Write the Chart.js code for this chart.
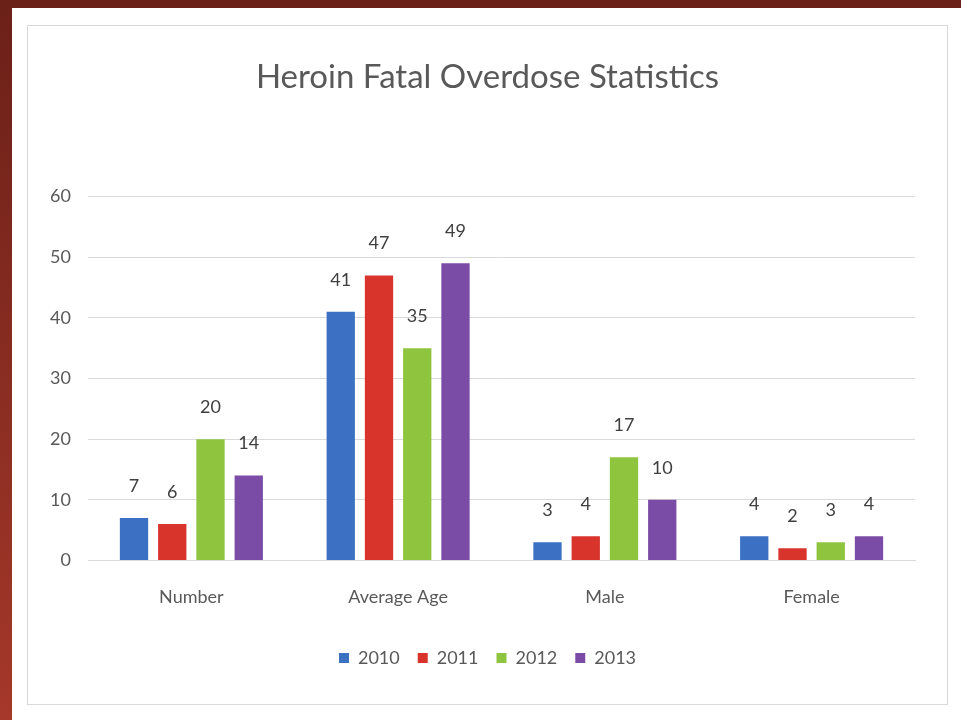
<!DOCTYPE html>
<html lang="en">
<head>
  <meta charset="UTF-8" />
  <title>Heroin Fatal Overdose Statistics</title>
  <script src="https://cdn.jsdelivr.net/npm/chart.js"></script>
  <style>
    body {
      margin: 0;
      width: 961px;
      height: 720px;
      background: #fff;
      position: relative;
      overflow: hidden;
      font-family: Lato, sans-serif;
    }
    .side {
      position: absolute;
      left: 0;
      top: 0;
      width: 12px;
      height: 720px;
      background: linear-gradient(#6b2018, #a5382a);
    }
    .top {
      position: absolute;
      left: 0;
      top: 0;
      width: 961px;
      height: 8px;
      background: #6b2018;
    }
    .box {
      position: absolute;
      left: 27px;
      top: 25px;
      width: 919px;
      height: 678px;
      border: 1px solid #d9d9d9;
    }
  </style>
</head>
<body>
  <div class="side"></div>
  <div class="top"></div>
  <div class="box"><canvas id="chart" width="919" height="678"></canvas></div>

  <script>
    const categories = ["Number", "Average Age", "Male", "Female"];
    const years = ["2010", "2011", "2012", "2013"];
    const values2010 = [7, 41, 3, 4];
    const values2011 = [6, 47, 4, 2];
    const values2012 = [20, 35, 17, 3];
    const values2013 = [14, 49, 10, 4];
    const yTicks = [0, 10, 20, 30, 40, 50, 60];
    const colors = ["#3b70c2", "#d8342c", "#8fc43e", "#7b4ca6"];

    const textGray = "#595959";

    // value labels above each bar
    const barLabels = {
      id: "barLabels",
      afterDatasetsDraw(chart) {
        const ctx = chart.ctx;
        ctx.save();
        ctx.font = "18px Lato, sans-serif";
        ctx.fillStyle = "#404040";
        ctx.textAlign = "center";
        ctx.textBaseline = "middle";
        chart.data.datasets.forEach((ds, i) => {
          chart.getDatasetMeta(i).data.forEach((bar, j) => {
            ctx.fillText(ds.data[j], bar.x, bar.y - 32);
          });
        });
        ctx.restore();
      }
    };

    const series = [values2010, values2011, values2012, values2013];

    new Chart(document.getElementById("chart"), {
      type: "bar",
      data: {
        labels: categories,
        datasets: series.map((vals, i) => ({
          label: years[i],
          data: vals,
          backgroundColor: colors[i],
          categoryPercentage: 0.74,
          barPercentage: 0.74
        }))
      },
      options: {
        responsive: false,
        animation: false,
        layout: { padding: { left: 0, right: 0, top: 0, bottom: 27 } },
        scales: {
          x: {
            grid: { display: false },
            border: { color: "#d9d9d9" },
            ticks: { color: textGray, font: { size: 18, family: "Lato" }, padding: 18 },
            afterFit: axis => { axis.height += 5; }
          },
          y: {
            min: 0,
            max: 60,
            afterBuildTicks: axis => { axis.ticks = yTicks.map(v => ({ value: v })); },
            afterFit: axis => { axis.width = 60; },
            grid: { color: "#d9d9d9", drawTicks: false },
            border: { display: false },
            ticks: { color: textGray, font: { size: 18, family: "Lato" }, padding: 17 }
          },
          // empty right-hand margin so the title stays centred on the box
          spacer: {
            position: "right",
            grid: { display: false },
            border: { display: false },
            ticks: { display: false },
            afterFit: axis => { axis.width = 32; }
          }
        },
        plugins: {
          title: {
            display: true,
            text: "Heroin Fatal Overdose Statistics",
            color: textGray,
            font: { size: 33, family: "Lato", weight: "normal" },
            padding: { top: 32, bottom: 99 }
          },
          legend: {
            position: "bottom",
            labels: {
              color: textGray,
              font: { size: 18, family: "Lato" },
              boxWidth: 10,
              boxHeight: 10,
              padding: 18
            }
          },
          tooltip: { enabled: false }
        }
      },
      plugins: [barLabels]
    });
  </script>
</body>
</html>
